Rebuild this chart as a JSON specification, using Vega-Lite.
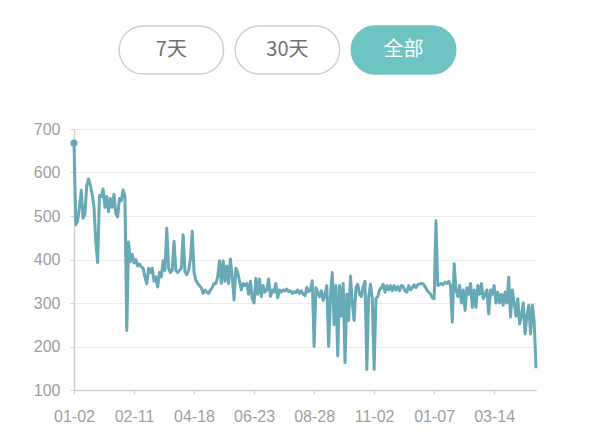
{
  "$schema": "https://vega.github.io/schema/vega-lite/v6.json",
  "background": "white",
  "padding": {"left": 33, "top": 25, "right": 10, "bottom": 5},
  "spacing": 46,
  "config": {"view": {"stroke": null}, "font": "Liberation Sans"},
  "datasets": {
    "buttons": [
      {"label": "7天", "state": "normal"},
      {"label": "30天", "state": "normal"},
      {"label": "全部", "state": "selected"}
    ],
    "series": [
      {"i":0,"v":668},{"i":1,"v":480},{"i":2,"v":490},{"i":3,"v":520},{"i":4,"v":559},{"i":5,"v":495},{"i":6,"v":505},{"i":7,"v":570},{"i":8,"v":585},{"i":9,"v":570},
      {"i":10,"v":550},{"i":11,"v":520},{"i":12,"v":440},{"i":13,"v":393},{"i":14,"v":547},{"i":15,"v":545},{"i":16,"v":562},{"i":17,"v":520},{"i":18,"v":545},{"i":19,"v":510},
      {"i":20,"v":540},{"i":21,"v":520},{"i":22,"v":550},{"i":23,"v":505},{"i":24,"v":498},{"i":25,"v":540},{"i":26,"v":535},{"i":27,"v":560},{"i":28,"v":545},{"i":29,"v":237},
      {"i":30,"v":440},{"i":31,"v":395},{"i":32,"v":412},{"i":33,"v":392},{"i":34,"v":400},{"i":35,"v":385},{"i":36,"v":390},{"i":37,"v":383},{"i":38,"v":380},{"i":39,"v":360},
      {"i":40,"v":344},{"i":41,"v":380},{"i":42,"v":370},{"i":43,"v":380},{"i":44,"v":350},{"i":45,"v":360},{"i":46,"v":337},{"i":47,"v":370},{"i":48,"v":360},{"i":49,"v":397},
      {"i":50,"v":375},{"i":51,"v":472},{"i":52,"v":380},{"i":53,"v":370},{"i":54,"v":375},{"i":55,"v":442},{"i":56,"v":375},{"i":57,"v":370},{"i":58,"v":375},{"i":59,"v":380},
      {"i":60,"v":457},{"i":61,"v":372},{"i":62,"v":365},{"i":63,"v":375},{"i":64,"v":400},{"i":65,"v":465},{"i":66,"v":370},{"i":67,"v":352},{"i":68,"v":345},{"i":69,"v":340},
      {"i":70,"v":335},{"i":71,"v":322},{"i":72,"v":330},{"i":73,"v":325},{"i":74,"v":322},{"i":75,"v":330},{"i":76,"v":335},{"i":77,"v":345},{"i":78,"v":345},{"i":79,"v":360},
      {"i":80,"v":397},{"i":81,"v":345},{"i":82,"v":397},{"i":83,"v":350},{"i":84,"v":385},{"i":85,"v":345},{"i":86,"v":401},{"i":87,"v":360},{"i":88,"v":307},{"i":89,"v":380},
      {"i":90,"v":370},{"i":91,"v":350},{"i":92,"v":330},{"i":93,"v":345},{"i":94,"v":340},{"i":95,"v":345},{"i":96,"v":320},{"i":97,"v":350},{"i":98,"v":310},{"i":99,"v":300},
      {"i":100,"v":357},{"i":101,"v":320},{"i":102,"v":355},{"i":103,"v":315},{"i":104,"v":340},{"i":105,"v":325},{"i":106,"v":330},{"i":107,"v":355},{"i":108,"v":315},{"i":109,"v":330},
      {"i":110,"v":325},{"i":111,"v":345},{"i":112,"v":312},{"i":113,"v":330},{"i":114,"v":325},{"i":115,"v":330},{"i":116,"v":328},{"i":117,"v":332},{"i":118,"v":326},{"i":119,"v":328},
      {"i":120,"v":322},{"i":121,"v":326},{"i":122,"v":324},{"i":123,"v":330},{"i":124,"v":322},{"i":125,"v":328},{"i":126,"v":320},{"i":127,"v":317},{"i":128,"v":336},{"i":129,"v":326},
      {"i":130,"v":330},{"i":131,"v":351},{"i":132,"v":200},{"i":133,"v":335},{"i":134,"v":325},{"i":135,"v":314},{"i":136,"v":328},{"i":137,"v":306},{"i":138,"v":320},{"i":139,"v":340},
      {"i":140,"v":200},{"i":141,"v":318},{"i":142,"v":370},{"i":143,"v":250},{"i":144,"v":340},{"i":145,"v":178},{"i":146,"v":340},{"i":147,"v":270},{"i":148,"v":345},{"i":149,"v":163},
      {"i":150,"v":320},{"i":151,"v":260},{"i":152,"v":362},{"i":153,"v":300},{"i":154,"v":260},{"i":155,"v":335},{"i":156,"v":343},{"i":157,"v":320},{"i":158,"v":315},{"i":159,"v":338},
      {"i":160,"v":350},{"i":161,"v":147},{"i":162,"v":315},{"i":163,"v":343},{"i":164,"v":310},{"i":165,"v":147},{"i":166,"v":310},{"i":167,"v":315},{"i":168,"v":330},{"i":169,"v":335},
      {"i":170,"v":343},{"i":171,"v":325},{"i":172,"v":340},{"i":173,"v":330},{"i":174,"v":340},{"i":175,"v":328},{"i":176,"v":340},{"i":177,"v":330},{"i":178,"v":338},{"i":179,"v":328},
      {"i":180,"v":340},{"i":181,"v":338},{"i":182,"v":328},{"i":183,"v":325},{"i":184,"v":340},{"i":185,"v":330},{"i":186,"v":335},{"i":187,"v":342},{"i":188,"v":335},{"i":189,"v":342},
      {"i":190,"v":344},{"i":191,"v":345},{"i":192,"v":344},{"i":193,"v":338},{"i":194,"v":330},{"i":195,"v":325},{"i":196,"v":320},{"i":197,"v":312},{"i":198,"v":310},{"i":199,"v":489},
      {"i":200,"v":340},{"i":201,"v":343},{"i":202,"v":345},{"i":203,"v":342},{"i":204,"v":348},{"i":205,"v":345},{"i":206,"v":350},{"i":207,"v":340},{"i":208,"v":256},{"i":209,"v":390},
      {"i":210,"v":330},{"i":211,"v":315},{"i":212,"v":340},{"i":213,"v":300},{"i":214,"v":330},{"i":215,"v":283},{"i":216,"v":335},{"i":217,"v":320},{"i":218,"v":345},{"i":219,"v":290},
      {"i":220,"v":330},{"i":221,"v":290},{"i":222,"v":340},{"i":223,"v":320},{"i":224,"v":345},{"i":225,"v":310},{"i":226,"v":320},{"i":227,"v":330},{"i":228,"v":275},{"i":229,"v":330},
      {"i":230,"v":320},{"i":231,"v":340},{"i":232,"v":300},{"i":233,"v":325},{"i":234,"v":300},{"i":235,"v":320},{"i":236,"v":295},{"i":237,"v":325},{"i":238,"v":300},{"i":239,"v":359},
      {"i":240,"v":268},{"i":241,"v":330},{"i":242,"v":300},{"i":243,"v":270},{"i":244,"v":310},{"i":245,"v":252},{"i":246,"v":270},{"i":247,"v":300},{"i":248,"v":229},{"i":249,"v":270},
      {"i":250,"v":295},{"i":251,"v":229},{"i":252,"v":295},{"i":253,"v":258},{"i":254,"v":150}
    ]
  },
  "vconcat": [
    {
      "width": 462,
      "height": 48,
      "data": {"name": "buttons"},
      "encoding": {
        "x": {
          "field": "label", "type": "nominal", "sort": null,
          "scale": {"paddingInner": 0.1, "paddingOuter": 0.54, "align": 0.36},
          "axis": null
        }
      },
      "layer": [
        {
          "mark": {"type": "bar", "cornerRadius": 24, "strokeWidth": 1.5},
          "encoding": {
            "fill": {"field": "state", "type": "nominal", "scale": {"domain": ["normal", "selected"], "range": ["#ffffff", "#6ec4c2"]}, "legend": null},
            "stroke": {"field": "state", "type": "nominal", "scale": {"domain": ["normal", "selected"], "range": ["#d0d0d0", "#6ec4c2"]}, "legend": null}
          }
        },
        {
          "mark": {"type": "text", "font": "Noto Sans CJK SC", "fontSize": 20},
          "encoding": {
            "text": {"field": "label"},
            "color": {"field": "state", "type": "nominal", "scale": {"domain": ["normal", "selected"], "range": ["#707070", "#ffffff"]}, "legend": null}
          }
        }
      ]
    },
    {
      "width": 462,
      "height": 261,
      "data": {"name": "series"},
      "encoding": {
        "x": {
          "field": "i", "type": "quantitative",
          "scale": {"domain": [0, 254], "nice": false, "zero": false},
          "axis": {
            "title": null, "grid": false,
            "values": [0, 33, 66, 99, 132, 165, 198, 231],
            "labelExpr": "['01-02','02-11','04-18','06-23','08-28','11-02','01-07','03-14'][round(datum.value/33)]",
            "domainColor": "#d0d0d0", "domainWidth": 1.5, "tickColor": "#d0d0d0", "tickSize": 4,
            "labelColor": "#a0a0a0", "labelFontSize": 16, "labelPadding": 14, "labelFlush": false, "labelOverlap": false
          }
        },
        "y": {
          "field": "v", "type": "quantitative",
          "scale": {"domain": [100, 700], "nice": false, "zero": false},
          "axis": {
            "title": null, "values": [100, 200, 300, 400, 500, 600, 700],
            "gridColor": "#ececec", "gridWidth": 1,
            "domainColor": "#d0d0d0", "domainWidth": 1.5, "tickColor": "#d0d0d0", "tickSize": 4,
            "labelColor": "#a0a0a0", "labelFontSize": 16, "labelPadding": 10, "labelFlush": false, "labelOverlap": false
          }
        }
      },
      "layer": [
        {"mark": {"type": "line", "color": "#68a9b7", "strokeWidth": 3, "strokeJoin": "round"}},
        {
          "transform": [{"filter": "datum.i == 0"}],
          "mark": {"type": "point", "filled": true, "color": "#68a9b7", "size": 50, "opacity": 1}
        }
      ]
    }
  ]
}
